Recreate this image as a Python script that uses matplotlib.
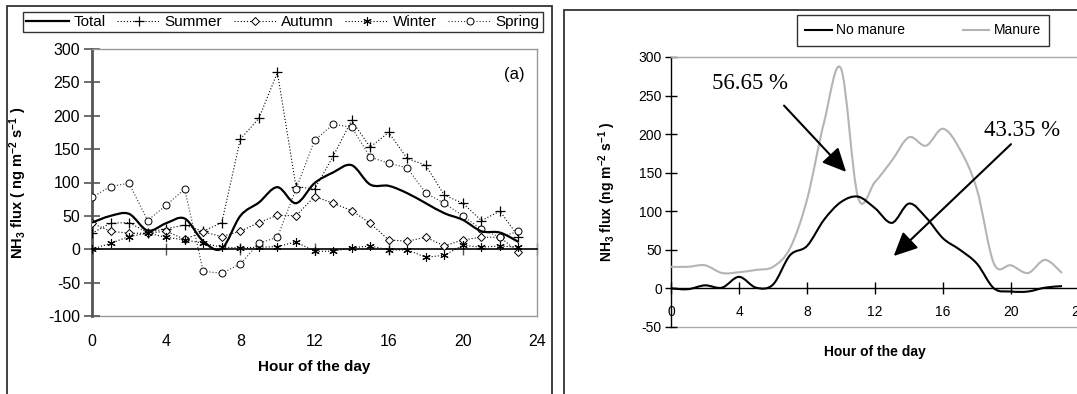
import numpy as np
import matplotlib
matplotlib.use("Agg")
import matplotlib.pyplot as plt
from matplotlib.path import Path
from matplotlib.patches import PathPatch, Rectangle
from matplotlib.lines import Line2D

plt.rcParams['font.family'] = ['Liberation Sans', 'DejaVu Sans']
plt.rcParams['mathtext.fontset'] = 'custom'
plt.rcParams['mathtext.rm'] = 'Liberation Sans'
plt.rcParams['mathtext.bf'] = 'Liberation Sans:bold'
plt.rcParams['mathtext.it'] = 'Liberation Sans:italic'
plt.rcParams['axes.unicode_minus'] = False

# ---------------- data ----------------
hours = list(range(24))
total = [40, 50, 53, 28, 39, 46, 12, 1, 50, 70, 93, 69, 99, 115, 126, 97, 95, 84, 69, 54, 44, 27, 25, 11]
summer = [24, 39, 40, 25, 31, 36, 27, 40, 165, 196, 265, 94, 90, 139, 193, 153, 175, 136, 126, 81, 69, 43, 57, 19]
autumn = [39, 27, 24, 24, 27, 15, 26, 19, 27, 40, 51, 50, 79, 69, 58, 39, 14, 12, 18, 5, 14, 18, 18, -4]
winter = [0, 9, 19, 24, 18, 14, 9, 3, 2, 3, 4, 11, -3, -3, 2, 5, -1, -1, -12, -9, 6, 3, 5, 3]
spring = [78, 94, 99, 43, 66, 90, -33, -36, -22, 9, 18, 90, 163, 187, 183, 138, 129, 122, 84, 69, 50, 30, 18, 27]

no_manure = [0, -1, 4, 1, 15, 1, 5, 43, 55, 89, 112, 119, 104, 85, 110, 92, 65, 50, 32, 0, -4, -4, 1, 3]
manure = [28, 28, 30, 20, 21, 24, 28, 52, 115, 215, 285, 118, 138, 166, 196, 185, 207, 180, 128, 32, 30, 20, 37, 20]

xticks = [0, 4, 8, 12, 16, 20, 24]
left_yticks = [-100, -50, 0, 50, 100, 150, 200, 250, 300]
right_yticks = [-50, 0, 50, 100, 150, 200, 250, 300]
share_manure = "56.65 %"
share_nomanure = "43.35 %"


def smooth_path(x, y):
    """Excel-style smoothed line: cubic Bezier segments through the data points."""
    x = np.asarray(x, float)
    y = np.asarray(y, float)
    n = len(x)
    verts = [(x[0], y[0])]
    codes = [Path.MOVETO]
    for i in range(n - 1):
        i0 = max(i - 1, 0)
        i3 = min(i + 2, n - 1)
        c1 = (x[i] + (x[i + 1] - x[i0]) / 6.0, y[i] + (y[i + 1] - y[i0]) / 6.0)
        c2 = (x[i + 1] - (x[i3] - x[i]) / 6.0, y[i + 1] - (y[i3] - y[i]) / 6.0)
        verts += [c1, c2, (x[i + 1], y[i + 1])]
        codes += [Path.CURVE4] * 3
    return Path(verts, codes)


W, H = 1077, 394
fig = plt.figure(figsize=(W / 100, H / 100), dpi=100)

# panel frames
fig.add_artist(Rectangle((7 / W, -0.1), (552 - 7) / W, 0.1 + 1 - 6 / H,
                         transform=fig.transFigure, fill=False, ec='#333333', lw=1.3))
fig.add_artist(Rectangle((564 / W, -0.1), 0.6, 0.1 + 1 - 10 / H,
                         transform=fig.transFigure, fill=False, ec='#333333', lw=1.3))

# ---------------- left panel ----------------
ax1 = fig.add_axes([92 / W, (H - 316) / H, (537 - 92) / W, (316 - 49) / H])
ax1.set_xlim(0, 24)
ax1.set_ylim(-100, 300)
dot = (0, (1.0, 1.8))
st_summer = dict(color='black', lw=0.8, ls=dot, marker='+', ms=7, mew=0.9)
st_autumn = dict(color='black', lw=0.8, ls=dot, marker='D', ms=4, mfc='white', mec='black', mew=0.7)
st_winter = dict(color='black', lw=0.8, ls=dot, marker=(6, 2, 0), ms=6, mew=0.8)
st_spring = dict(color='#333333', lw=0.8, ls=dot, marker='o', ms=5, mfc='white', mec='black', mew=0.7)
ax1.add_patch(PathPatch(smooth_path(hours, total), fill=False, ec='black', lw=1.6, zorder=4))
ax1.plot(hours, summer, zorder=3, **st_summer)
ax1.plot(hours, autumn, zorder=3, **st_autumn)
ax1.plot(hours, winter, zorder=3, **st_winter)
ax1.plot(hours, spring, zorder=3, **st_spring)

for s in ['top', 'right']:
    ax1.spines[s].set_color('#999999')
    ax1.spines[s].set_linewidth(1.0)
ax1.spines['left'].set_color('#555555')
ax1.spines['left'].set_linewidth(2.0)
ax1.spines['bottom'].set_position(('data', 0))
ax1.spines['bottom'].set_color('black')
ax1.spines['bottom'].set_linewidth(1.2)
ax1.set_xticks(xticks)
ax1.tick_params(axis='x', direction='inout', length=9, width=1.0, color='#555555', labelbottom=False)
ax1.set_yticks(left_yticks)
ax1.tick_params(axis='y', direction='inout', length=11, width=1.2, color='#555555', labelsize=11.5, pad=3)
sec1 = ax1.secondary_xaxis('bottom')
sec1.set_xticks(xticks)
sec1.tick_params(length=0, labelsize=11.5, pad=13)
sec1.spines['bottom'].set_color('#999999')
sec1.spines['bottom'].set_linewidth(1.0)
ax1.set_xlabel('Hour of the day', fontsize=11, fontweight='bold')
ax1.xaxis.set_label_coords(0.5, -0.165)
ax1.set_ylabel(r'NH$_\mathbf{3}$ flux ( ng m$^\mathbf{-2}$ s$^\mathbf{-1}$ )', fontsize=10.5, fontweight='bold')
ax1.yaxis.set_label_coords(-0.142, 0.5)
ax1.text(0.95, 0.905, '(a)', transform=ax1.transAxes, fontsize=12, ha='center', va='center')

handles1 = [
    Line2D([], [], color='black', lw=1.6),
    Line2D([], [], **st_summer),
    Line2D([], [], **st_autumn),
    Line2D([], [], **st_winter),
    Line2D([], [], **st_spring),
]
leg1 = ax1.legend(handles1, ['Total', 'Summer', 'Autumn', 'Winter', 'Spring'], ncol=5,
                  loc='center', bbox_to_anchor=(283 / W, 1 - 22 / H), bbox_transform=fig.transFigure,
                  fontsize=11, frameon=True, fancybox=False, framealpha=1, edgecolor='#333333',
                  handlelength=2.8, handletextpad=0.3, columnspacing=0.75, borderpad=0.2,
                  borderaxespad=0)
leg1.get_frame().set_linewidth(1.0)

# ---------------- right panel ----------------
ax2 = fig.add_axes([671 / W, (H - 327) / H, 408 / W, 270 / H])
ax2.set_xlim(0, 24)
ax2.set_ylim(-50, 300)
ax2.add_patch(PathPatch(smooth_path(hours, manure), fill=False, ec='#b4b4b4', lw=1.5, zorder=3))
ax2.add_patch(PathPatch(smooth_path(hours, no_manure), fill=False, ec='black', lw=1.5, zorder=4))
for s in ['top', 'right']:
    ax2.spines[s].set_color('#aaaaaa')
    ax2.spines[s].set_linewidth(1.0)
ax2.spines['left'].set_color('black')
ax2.spines['left'].set_linewidth(1.0)
ax2.spines['bottom'].set_position(('data', 0))
ax2.spines['bottom'].set_color('black')
ax2.spines['bottom'].set_linewidth(1.0)
ax2.set_xticks(xticks)
ax2.tick_params(axis='x', direction='inout', length=8, width=1.0, labelsize=10, pad=8)
ax2.set_yticks(right_yticks)
ax2.tick_params(axis='y', direction='inout', length=9, width=1.0, labelsize=10, pad=2)
sec2 = ax2.secondary_xaxis('bottom')
sec2.set_xticks([])
sec2.spines['bottom'].set_color('#aaaaaa')
sec2.spines['bottom'].set_linewidth(1.0)
ax2.set_xlabel('Hour of the day', fontsize=10, fontweight='bold')
ax2.xaxis.set_label_coords(0.5, -0.067)
ax2.set_ylabel(r'NH$_\mathbf{3}$ flux (ng m$^\mathbf{-2}$ s$^\mathbf{-1}$ )', fontsize=10, fontweight='bold')
ax2.yaxis.set_label_coords(-0.13, 0.5)

arrow_kw = dict(arrowstyle='-|>,head_length=0.8,head_width=0.38', color='black', lw=1.5,
                mutation_scale=18, shrinkA=0, shrinkB=0)
ax2.annotate('', xy=(10.3, 151), xytext=(6.65, 237), arrowprops=arrow_kw)
ax2.annotate('', xy=(13.1, 42), xytext=(20.0, 187), arrowprops=arrow_kw)
ax2.text(4.65, 266, share_manure, fontsize=16.5, family='Liberation Serif', ha='center', va='center')
ax2.text(20.65, 205, share_nomanure, fontsize=16.5, family='Liberation Serif', ha='center', va='center')

handles2 = [Line2D([], [], color='black', lw=1.5), Line2D([], [], color='#b4b4b4', lw=1.5)]
leg2 = ax2.legend(handles2, ['No manure', 'Manure'], ncol=2, loc='center',
                  bbox_to_anchor=(923 / W, 1 - 30.5 / H), bbox_transform=fig.transFigure,
                  fontsize=10, frameon=True, fancybox=False, framealpha=1, edgecolor='#333333',
                  handlelength=1.9, handletextpad=0.3, columnspacing=4.2, borderpad=0.6,
                  borderaxespad=0)
leg2.get_frame().set_linewidth(1.0)

fig.savefig('out.png', dpi=100)
